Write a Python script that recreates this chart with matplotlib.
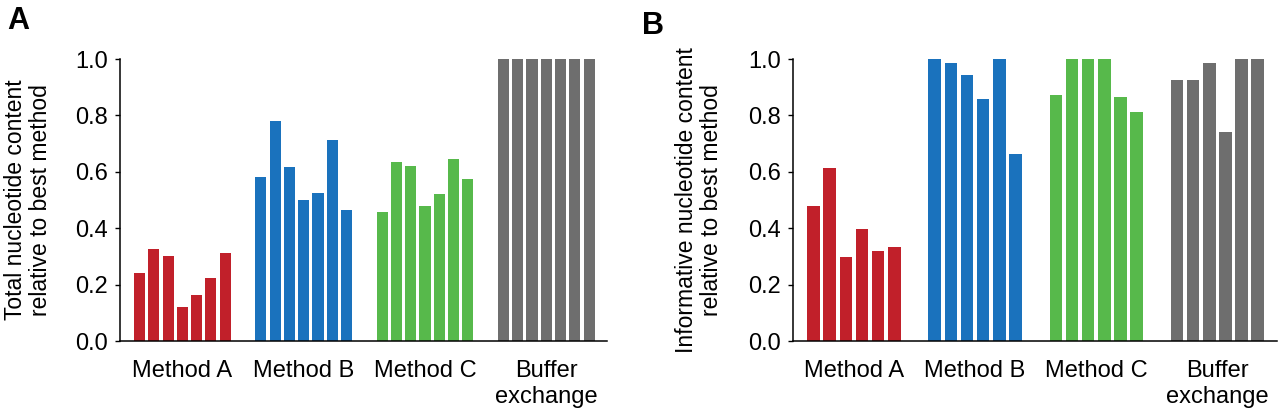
import matplotlib
matplotlib.use("Agg")
import matplotlib.pyplot as plt
import numpy as np

plt.rcParams['font.family'] = ['Liberation Sans', 'DejaVu Sans']

groups = ['Method A', 'Method B', 'Method C', 'Buffer\nexchange']
colors = ['#c1202a', '#1a72bd', '#57b94b', '#6e6e6e']

# panel A: total nucleotide content
total_a = [0.24, 0.325, 0.30, 0.122, 0.162, 0.222, 0.311]
total_b = [0.582, 0.78, 0.617, 0.499, 0.525, 0.713, 0.465]
total_c = [0.459, 0.634, 0.621, 0.478, 0.522, 0.645, 0.576]
total_buf = [1.0, 1.0, 1.0, 1.0, 1.0, 1.0, 1.0]

# panel B: informative nucleotide content
info_a = [0.478, 0.612, 0.298, 0.396, 0.319, 0.332]
info_b = [1.0, 0.987, 0.942, 0.857, 1.0, 0.662]
info_c = [0.874, 1.0, 1.0, 1.0, 0.866, 0.812]
info_buf = [0.924, 0.924, 0.987, 0.741, 1.0, 1.0]

yticks = [0.0, 0.2, 0.4, 0.6, 0.8, 1.0]
FS = 17


def draw_panel(ax, series, ylabel, xlim):
    n = len(series[0])
    gap = n + 1.5
    centers = []
    for g, (vals, col) in enumerate(zip(series, colors)):
        x = g * gap + np.arange(len(vals))
        ax.bar(x, vals, width=0.78, color=col, edgecolor='none')
        centers.append(x.mean())
    ax.set_xlim(*xlim)
    ax.set_ylim(0, 1.0)
    ax.set_yticks(yticks)
    ax.set_yticklabels([f'{t:.1f}' for t in yticks], fontsize=FS)
    ax.set_xticks(centers)
    ax.set_xticklabels(groups, fontsize=FS, linespacing=1.2)
    ax.tick_params(axis='x', length=0, pad=14)
    ax.tick_params(axis='y', length=3.8, width=1, direction='out', pad=5)
    for s in ['top', 'right']:
        ax.spines[s].set_visible(False)
    for s in ['left', 'bottom']:
        ax.spines[s].set_linewidth(1.1)
    ax.set_ylabel(ylabel, fontsize=16.5, linespacing=1.1)


fig = plt.figure(figsize=(12.8, 4.09), dpi=100)
ax1 = fig.add_axes([120 / 1280, 1 - 341 / 409, 487 / 1280, 282 / 409])
ax2 = fig.add_axes([793 / 1280, 1 - 341 / 409, 484 / 1280, 282 / 409])

draw_panel(ax1, [total_a, total_b, total_c, total_buf],
           'Total nucleotide content\nrelative to best method', (-1.37, 32.75))
draw_panel(ax2, [info_a, info_b, info_c, info_buf],
           'Informative nucleotide content\nrelative to best method', (-1.27, 28.69))
ax1.yaxis.set_label_coords(-0.14, 0.5)
ax2.yaxis.set_label_coords(-0.145, 0.5)

fig.text(7 / 1280, 1 - 6 / 409, 'A', fontsize=22, fontweight='bold', va='top', ha='left')
fig.text(642 / 1280, 1 - 11 / 409, 'B', fontsize=22, fontweight='bold', va='top', ha='left')

fig.savefig('out.png', dpi=100)
